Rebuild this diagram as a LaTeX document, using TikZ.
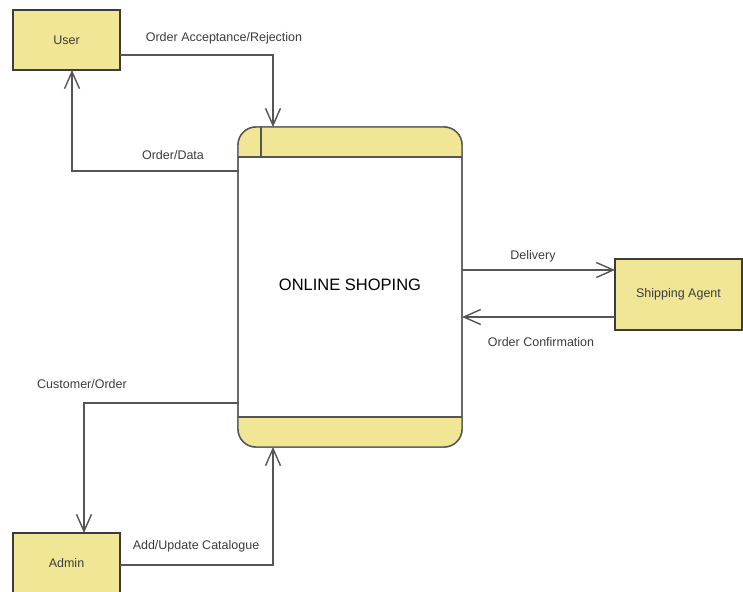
\documentclass[tikz,border=0pt]{standalone}
\usepackage{fontspec}
\setmainfont{Liberation Sans}
\usetikzlibrary{arrows.meta}
\definecolor{dfdyellow}{RGB}{241,230,150}
\definecolor{dfdline}{RGB}{85,85,85}
\definecolor{dfdborder}{RGB}{60,60,60}

\begin{document}
\begin{tikzpicture}[x=1pt,y=-1pt,
  entity/.style={draw=dfdborder,line width=1.6pt,fill=dfdyellow,inner sep=0pt,outer sep=0pt,
    text=dfdborder,font=\fontsize{12.5}{14}\selectfont},
  procbox/.style={draw=dfdline,line width=1.4pt,fill=white,rounded corners=18pt,inner sep=0pt,outer sep=0pt,
    minimum width=224pt,minimum height=320pt,font=\fontsize{16.5}{18}\selectfont},
  flow/.style={draw=dfdline,line width=1.4pt,-{Straight Barb[length=17pt,width=15pt]}},
  lbl/.style={text=dfdborder,font=\fontsize{12.5}{14}\selectfont,inner sep=0pt}]
\useasboundingbox (0,0) rectangle (743,591);

% external entities
\node[entity,minimum width=107pt,minimum height=60pt] (user) at (66.5,40) {User};
\node[entity,minimum width=107pt,minimum height=60pt] (admin) at (66.5,563) {Admin};
\node[entity,minimum width=127pt,minimum height=71pt] (ship) at (678.5,294.5) {Shipping Agent};

% process
\node[procbox] (proc) at (350,287) {\raisebox{4pt}{ONLINE SHOPING}};
\begin{scope}
\clip[rounded corners=18pt] (proc.north west) rectangle (proc.south east);
\fill[dfdyellow] (proc.north west) rectangle ([yshift=-30pt]proc.north east);
\fill[dfdyellow] ([yshift=30pt]proc.south west) rectangle (proc.south east);
\end{scope}
\draw[dfdline,line width=1.4pt,rounded corners=18pt] (proc.north west) rectangle (proc.south east);
\draw[dfdline,line width=1.4pt] ([yshift=-30pt]proc.north west) -- ([yshift=-30pt]proc.north east);
\draw[dfdline,line width=1.4pt] ([yshift=30pt]proc.south west) -- ([yshift=30pt]proc.south east);
\draw[dfdline,line width=1.4pt] ([xshift=23pt]proc.north west) -- ([xshift=23pt,yshift=-30pt]proc.north west);

% data flows
\draw[flow] ([yshift=-15pt]user.east) -| ([xshift=-77pt]proc.north);
\draw[flow] ([yshift=116pt]proc.west) -| ([xshift=5.5pt]user.south);
\draw[flow] ([yshift=17pt]proc.east) -- ([yshift=17pt]proc.east -| ship.west);
\draw[flow] ([yshift=-30pt]proc.east -| ship.west) -- ([yshift=-30pt]proc.east);
\draw[flow] ([yshift=-116pt]proc.west) -| ([xshift=17.5pt]admin.north);
\draw[flow] ([yshift=-2pt]admin.east) -| ([xshift=-77pt]proc.south);

% labels
\node[lbl] (l1) at (224,38) {Order Acceptance/Rejection};
\node[lbl] (l2) at (173,155) {Order/Data};
\node[lbl] (l3) at (533,256) {Delivery};
\node[lbl] (l4) at (541,342) {Order Confirmation};
\node[lbl] (l5) at (82,384) {Customer/Order};
\node[lbl] (l6) at (196,546) {Add/Update Catalogue};
\end{tikzpicture}
\end{document}
